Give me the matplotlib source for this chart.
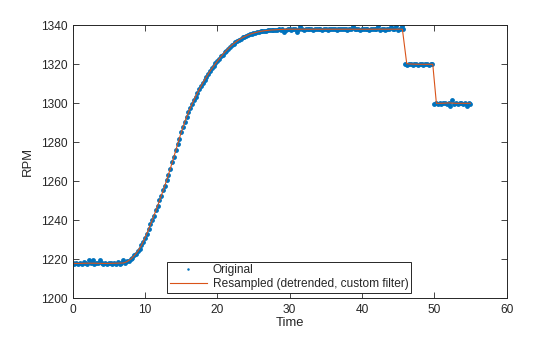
import numpy as np
import matplotlib
matplotlib.use("Agg")
import matplotlib.pyplot as plt

# Вихідні відліки (крок 0.25 с, від 0 до 55 с)
sample_step = 0.25
rpm_original = [
    # 0 .. 7 с
    1218.0, 1217.6, 1218.3, 1217.8, 1218.2, 1217.7, 1218.4, 1218.0,
    1217.6, 1219.8, 1218.1, 1219.5, 1217.8, 1218.3, 1217.9, 1219.6,
    1218.2, 1217.7, 1218.1, 1217.6, 1218.3, 1217.9, 1217.6, 1218.2,
    1217.8, 1218.4, 1217.7, 1218.1, 1219.4,
    # 7.25 .. 29.75 с
    1218.3, 1218.9, 1219.2, 1220.3, 1220.8, 1222.0, 1222.7, 1224.2,
    1225.3, 1227.2, 1228.8, 1231.1, 1233.0, 1235.4, 1237.9, 1240.2,
    1242.4, 1245.1, 1247.3, 1250.2, 1252.4, 1255.3, 1257.6, 1260.6,
    1263.2, 1266.4, 1269.7, 1272.4, 1275.9, 1279.1, 1281.9, 1285.2,
    1287.6, 1290.6, 1293.0, 1295.4, 1297.8, 1299.6, 1301.8, 1303.4,
    1305.4, 1307.1, 1308.9, 1310.4, 1312.1, 1313.6, 1315.2, 1316.4,
    1317.9, 1319.1, 1320.5, 1321.6, 1322.8, 1324.1, 1325.0, 1326.2,
    1327.0, 1328.1, 1328.8, 1329.9, 1330.5, 1331.4, 1331.9, 1332.7,
    1333.1, 1333.8, 1334.1, 1334.7, 1334.9, 1335.5, 1335.6, 1336.1,
    1336.2, 1336.6, 1336.7, 1337.0, 1336.9, 1337.3, 1337.2, 1337.5,
    1337.4, 1337.7, 1337.5, 1337.8, 1337.6, 1337.9, 1337.7, 1338.0,
    1336.8, 1337.8, 1338.1,
    # 30 .. 45.75 с
    1338.2, 1337.8, 1338.1, 1337.9, 1336.8, 1338.2, 1339.6, 1338.0,
    1337.8, 1338.3, 1337.9, 1338.1, 1338.2, 1337.8, 1338.0, 1338.3,
    1337.9, 1338.1, 1337.7, 1338.2, 1338.0, 1337.8, 1338.3, 1338.0,
    1337.9, 1338.2, 1337.8, 1338.1, 1338.0, 1338.3, 1337.9, 1338.1,
    1337.8, 1338.2, 1338.0, 1339.5, 1338.1, 1337.9, 1338.2, 1337.8,
    1338.0, 1338.3, 1337.9, 1338.1, 1337.8, 1338.2, 1338.0, 1337.9,
    1338.2, 1339.4, 1337.8, 1338.1, 1338.0, 1337.7, 1338.2, 1338.0,
    1339.3, 1337.9, 1338.1, 1339.5, 1337.8, 1338.2, 1339.4, 1338.0,
    # 46 .. 49.75 с
    1320.2, 1319.7, 1320.3, 1320.0, 1319.8, 1320.2, 1320.1, 1319.8,
    1320.3, 1320.0, 1319.7, 1320.2, 1320.0, 1319.8, 1320.3, 1320.1,
    # 50 .. 55 с
    1299.8, 1300.2, 1299.9, 1300.1, 1299.7, 1300.2, 1300.0, 1299.8,
    1300.2, 1298.6, 1301.5, 1299.9, 1300.1, 1299.8, 1300.2, 1300.0,
    1299.7, 1300.2, 1298.7, 1300.1, 1299.9,
]
time_original = np.arange(len(rpm_original)) * sample_step

# Передискретизований (згладжений) сигнал
resampled_time = [0, 1, 2, 3, 4, 5, 6, 7, 7.5, 8, 8.5, 9, 9.5, 10, 10.5, 11,
                  11.5, 12, 12.5, 13, 13.5, 14, 14.5, 15, 15.5, 16, 16.5, 17,
                  17.5, 18, 18.5, 19, 19.5, 20, 20.5, 21, 21.5, 22, 22.5, 23,
                  23.5, 24, 24.5, 25, 25.5, 26, 26.5, 27, 27.5, 28, 28.5, 29,
                  29.5, 30, 32, 34, 36, 38, 40, 42, 44, 45.6, 46.2, 47, 48, 49,
                  49.8, 50.3, 51, 52, 53, 54, 55]
resampled_rpm = [1217.9, 1217.9, 1218.0, 1218.0, 1217.9, 1217.9, 1218.0, 1218.1,
                 1218.8, 1220.0, 1221.8, 1224.1, 1227.1, 1231.0, 1235.4, 1240.1,
                 1245.0, 1250.0, 1255.2, 1260.6, 1266.5, 1272.6, 1278.9, 1285.0,
                 1290.5, 1295.4, 1299.6, 1303.5, 1307.1, 1310.5, 1313.6, 1316.5,
                 1319.1, 1321.6, 1324.0, 1326.1, 1328.0, 1329.8, 1331.3, 1332.6,
                 1333.7, 1334.6, 1335.4, 1336.0, 1336.5, 1336.9, 1337.2, 1337.4,
                 1337.6, 1337.7, 1337.8, 1337.9, 1337.95, 1338.0, 1338.0, 1338.0,
                 1338.0, 1338.0, 1338.0, 1338.0, 1338.0, 1338.0, 1320.3, 1320.1,
                 1320.0, 1320.0, 1320.0, 1300.0, 1300.0, 1300.2, 1300.0, 1300.0,
                 1300.0]

x_ticks = [0, 10, 20, 30, 40, 50, 60]
y_ticks = [1200, 1220, 1240, 1260, 1280, 1300, 1320, 1340]

plt.rcParams['font.family'] = ['Liberation Sans', 'DejaVu Sans']
dark = '#262626'

fig = plt.figure(figsize=(5.6, 3.37), dpi=100)
ax = fig.add_axes([0.1298, 0.1148, 0.9045 - 0.1298, 0.9249 - 0.1148])

ax.plot(time_original, rpm_original, linestyle='none', marker='o', markersize=3.5,
        markeredgewidth=0, color='#0072BD', label='Original')
ax.plot(resampled_time, resampled_rpm, color='#D95319', linewidth=0.8,
        label='Resampled (detrended, custom filter)')

ax.set_xlim(0, 60)
ax.set_ylim(1200, 1340)
ax.set_xticks(x_ticks)
ax.set_yticks(y_ticks)
ax.tick_params(direction='in', length=4, width=0.6, top=True, right=True,
               labelsize=8.6, colors=dark, pad=4)
for s in ax.spines.values():
    s.set_linewidth(0.7)
    s.set_color(dark)

ax.set_xlabel('Time', fontsize=9.4, color=dark, labelpad=1)
ax.set_ylabel('RPM', fontsize=9.4, color=dark, labelpad=5)

leg = ax.legend(loc='lower center', bbox_to_anchor=(289 / 560, 1 - 292.5 / 337),
                bbox_transform=fig.transFigure, borderaxespad=0, fontsize=8.6,
                numpoints=1, handlelength=3.1, handletextpad=0.5,
                labelspacing=0.15, borderpad=0.2, fancybox=False, framealpha=1)
leg.get_frame().set_edgecolor(dark)
leg.get_frame().set_linewidth(0.7)
leg.legend_handles[0].set_markersize(1.8)
for t in leg.get_texts():
    t.set_color(dark)

fig.savefig('out.png', dpi=100)
